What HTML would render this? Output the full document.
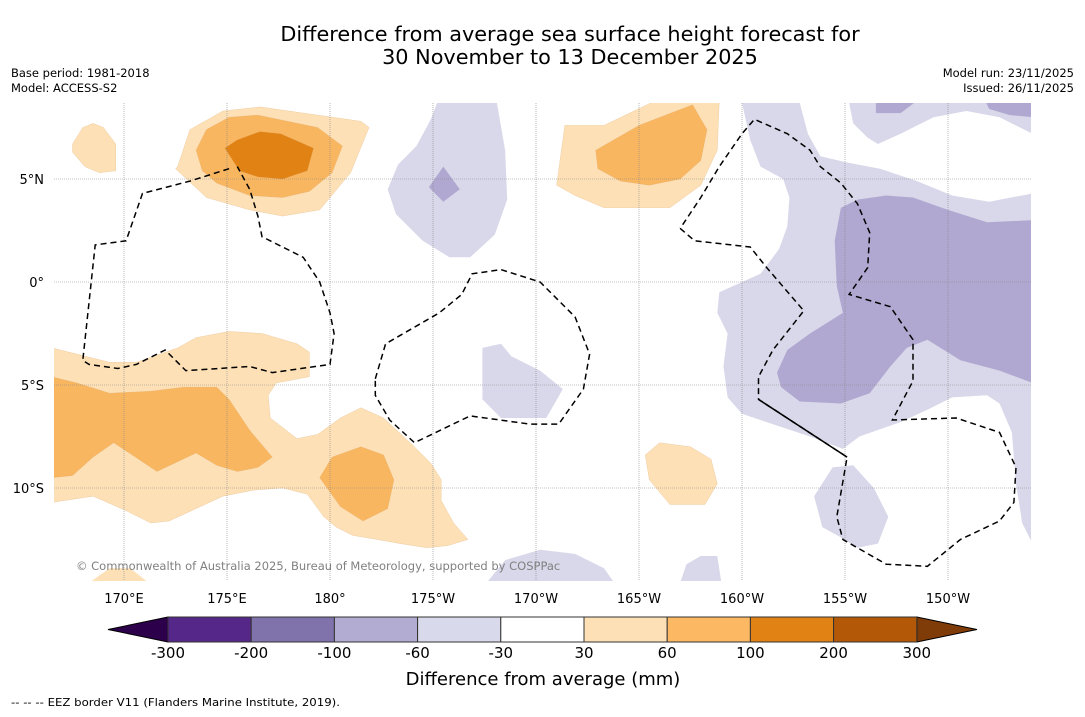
<!DOCTYPE html>
<html><head><meta charset="utf-8"><style>
html,body{margin:0;padding:0;background:#fff;}
body{width:1085px;height:713px;overflow:hidden;font-family:"DejaVu Sans","Liberation Sans",sans-serif;}
svg text{font-family:"DejaVu Sans","Liberation Sans",sans-serif;}
</style></head><body>
<svg id="chart" width="1085" height="713" viewBox="0 0 1085 713" xmlns="http://www.w3.org/2000/svg">
<rect width="1085" height="713" fill="#fff"/>
<text x="570" y="41" font-size="20.8" text-anchor="middle" fill="#000">Difference from average sea surface height forecast for</text>
<text x="570" y="64" font-size="20.8" text-anchor="middle" fill="#000">30 November to 13 December 2025</text>
<text x="11" y="77" font-size="11.5">Base period: 1981-2018</text>
<text x="11" y="92" font-size="11.5">Model: ACCESS-S2</text>
<text x="1074" y="77" font-size="11.5" text-anchor="end">Model run: 23/11/2025</text>
<text x="1074" y="92" font-size="11.5" text-anchor="end">Issued: 26/11/2025</text>
<defs><clipPath id="mapclip"><rect x="54" y="103" width="977" height="478"/></clipPath></defs>
<g id="map" clip-path="url(#mapclip)"></g>
<g id="axes"></g>
<g id="cbar"></g>
<text x="543" y="685" font-size="18" text-anchor="middle">Difference from average (mm)</text>
<text x="11" y="706" font-size="11" textLength="329" lengthAdjust="spacingAndGlyphs">--  --  -- EEZ border V11 (Flanders Marine Institute, 2019).</text>
</svg>
<script>
const lonTicks=[170,175,180,185,190,195,200,205,210];
const lonTickLabels=["170°E","175°E","180°","175°W","170°W","165°W","160°W","155°W","150°W"];
const latTicks=[5,0,-5,-10];
const latTickLabels=["5°N","0°","5°S","10°S"];
const cbarBounds=[-300,-200,-100,-60,-30,30,60,100,200,300];
const cbarColors=["#542788","#8073ac","#b2abd2","#d8daeb","#ffffff","#fee0b6","#fdb863","#e08214","#b35806"];
const cbarExtendColors=["#2d004b","#7f3b08"];
const regionLevels=[3,3,3,3,3,3,3,2,2,2,2,5,5,5,5,5,6,6,6,6,7];
const regionPolys=[
[[200,8.7],[202.8,8.7],[203.2,7.2],[203.8,6.1],[205.1,5.8],[206.7,5.5],[208.5,4.9],[210.2,4.2],[212,3.9],[214.1,4.3],[214.1,-12.7],[213.6,-11.7],[213.3,-9.8],[213.1,-7.3],[212.5,-5.9],[211.9,-5.5],[210.2,-5.6],[209,-6.2],[207.7,-6.8],[205.7,-7.5],[204.9,-8.1],[203.3,-7.5],[201.2,-6.8],[200,-6.4],[199.3,-5.6],[199.1,-4.1],[199.3,-2.5],[198.8,-1.5],[198.9,-0.5],[200.9,0.4],[201.8,1.6],[202.2,2.7],[202.3,4.1],[202,5],[200.9,5.6],[200.4,6.9]],
[[205.2,8.7],[205.4,7.7],[206.1,7],[206.6,6.7],[207.7,7.2],[209.3,8],[210.9,8.3],[212.5,8],[214.1,7.2],[214.1,8.7]],
[[185.2,8.7],[184.9,7.9],[184.2,6.6],[183.3,5.7],[182.8,4.5],[183.2,3.3],[184.5,2],[185.8,1.2],[186.8,1.2],[188,2.3],[188.6,4],[188.5,6.4],[188.1,8.7]],
[[187.4,-3.2],[188.3,-3],[188.8,-3.6],[190.2,-4.3],[191.3,-5.2],[190.5,-6.6],[188.3,-6.6],[187.4,-5.7]],
[[203.5,-10.4],[204.4,-9],[205.4,-8.9],[206.4,-10],[207.1,-11.4],[206.6,-12.7],[205.6,-12.9],[204.8,-12.4],[203.9,-11.9]],
[[198,-13.3],[198.8,-13.3],[199,-14.6],[197,-14.6],[197.3,-13.7]],
[[188.5,-13.5],[190.2,-13],[191.9,-13.2],[193.3,-13.9],[193.8,-14.6],[187.6,-14.6]],
[[204.8,3.6],[205.6,4],[207,4.2],[208.3,4.1],[210,3.5],[211.9,2.9],[214.1,3],[214.1,-4.9],[212.5,-4.3],[210.6,-3.8],[209,-2.8],[208,-3.2],[207.2,-4.1],[206.2,-5.4],[204.8,-5.9],[202.8,-5.8],[201.9,-5.1],[201.7,-4.4],[202.2,-3.3],[203.3,-2.5],[204.9,-1.5],[204.6,-0.2],[204.5,2]],
[[184.8,4.6],[185.5,5.6],[186.3,4.5],[185.5,3.9]],
[[206.5,8.8],[208.5,8.8],[207.7,8.2],[206.5,8.2]],
[[211.8,8.8],[214.1,8.8],[214.1,8],[213,8.1],[212,8.4]],
[[172.6,5.6],[173.2,7.4],[174.8,8.3],[176.6,8.5],[181.5,7.8],[181.9,7.5],[181,5.3],[179.5,3.5],[177.7,3.2],[176.1,3.5],[174,4.1],[172.5,5.5]],
[[167.5,6.7],[168,7.5],[168.5,7.7],[169,7.5],[169.6,6.7],[169.6,5.4],[168.8,5.3],[168.1,5.6],[167.5,6.3]],
[[166.5,-3.2],[169.3,-3.9],[170.6,-3.9],[172.6,-3.2],[173.5,-2.7],[175.1,-2.4],[176.7,-2.5],[178.4,-3],[179,-3.4],[179,-4.6],[177.4,-4.9],[177,-5.5],[177.1,-6.6],[178.4,-7.6],[179.4,-7.4],[180.5,-6.6],[181.5,-6.1],[182.6,-6.6],[183.9,-7.8],[184.9,-8.8],[185.4,-9.6],[185.4,-10.6],[186,-11.7],[186.7,-12.5],[185.7,-12.8],[184.7,-12.9],[183.4,-12.7],[182.3,-12.5],[181.1,-12.3],[180.3,-11.9],[179.7,-11.4],[178.9,-10.3],[177.7,-10],[176.3,-10.1],[174.8,-10.4],[173.5,-11],[172.2,-11.6],[171.3,-11.7],[170.1,-11.1],[168.5,-10.4],[166.5,-10.7]],
[[191,4.7],[191.4,7.6],[193.3,7.6],[195.8,8.8],[198.9,8.8],[198.8,6.4],[198,4.7],[196.5,3.6],[193.3,3.6],[191.9,4.2]],
[[195.3,-8.4],[196,-7.8],[197.5,-8],[198.5,-8.6],[198.8,-9.8],[198.2,-10.8],[196.5,-10.8],[195.5,-9.6]],
[[173.5,6.4],[174,7.4],[175.1,8],[176.5,8.1],[179.4,7.5],[180.6,6.6],[180.1,5.3],[179,4.4],[177.7,4.1],[176.1,4.2],[174.5,4.8],[173.8,5.4]],
[[166.5,-4.6],[167.7,-4.9],[169.3,-5.4],[171.3,-5.3],[172.9,-5.1],[174.5,-5.1],[175.1,-5.7],[176.1,-7.2],[177.2,-8.5],[176.5,-9],[175.5,-9.2],[174.5,-8.9],[173.5,-8.3],[171.6,-9.2],[169.5,-7.8],[168.5,-8.5],[167.5,-9.4],[166.5,-9.5]],
[[179.5,-9.5],[180.1,-8.5],[181.5,-8],[182.6,-8.4],[183.1,-9.6],[182.8,-11],[181.6,-11.6],[180.5,-10.9]],
[[192.9,6.4],[195,7.6],[197.6,8.6],[198.3,7.4],[198,5.9],[197,5],[195.5,4.7],[194.1,4.9],[193,5.5]],
[[174.9,6.5],[175.5,6.9],[176.6,7.3],[177.6,7.2],[179.2,6.5],[178.9,5.4],[177.7,5],[176.5,5.1],[175.6,5.4]]
];
const extraPoly=[[168.3,-14.6],[169.3,-13.9],[170.3,-13.9],[171.2,-14.6]];
const eezLines=[
[[175.1,5.5],[173.2,4.9],[170.9,4.3],[170.1,2],[168.6,1.8],[168,-3.8],[168.3,-4],[169.7,-4.2],[170.6,-4],[172,-3.3],[173,-4.3],[176.1,-4.1],[177.2,-4.4],[180,-4],[180.2,-2.5],[180,-1.5],[179.5,0],[178.7,1.2],[176.7,2.2],[176.5,3.2],[176.1,4.5],[175.5,5.6]],
[[182.2,-4.7],[182.7,-3],[185.3,-1.5],[186.4,-0.6],[186.9,0.4],[188.3,0.6],[190.2,0],[191.9,-1.7],[192.6,-3.5],[192.3,-5.2],[191.1,-6.9],[189.7,-6.9],[186.8,-6.5],[184.1,-7.8],[182.9,-6.7],[182.2,-5.5],[182.2,-4.7]],
[[197,2.6],[197.7,2],[200.4,1.7],[201.2,0.7],[203,-1.4],[201.5,-3.3],[200.8,-4.6],[200.8,-5.7],[205.1,-8.5],[204.6,-11.4],[204.9,-12.5],[207,-13.7],[209,-13.8],[210.6,-12.5],[212.5,-11.6],[213.2,-10.7],[213.3,-9],[212.5,-7.3],[210.4,-6.6],[207.3,-6.7],[208.3,-4.8],[208.3,-2.8],[207.2,-1.2],[205.2,-0.6],[206.1,0.7],[206.2,2.4],[205.6,3.8],[204.8,4.8],[203.8,5.6],[203.3,6.4],[202.2,7.2],[200.6,7.9],[200,7.2],[198.9,5.6],[198,4.1],[197,2.6]]
];
const eezSolid=[[200.8,-5.7],[205.1,-8.5]];
const mapColors=["#542788","#8073ac","#b0a8d0","#d8d8ea","#ffffff","#fde0b6","#f9b661","#e08214"];

const X0=54,X1=1031,Y0=103,Y1=581;
function xScale(lon){return 124+(lon-170)*20.6;}
function yScale(lat){return 282-lat*20.6;}
function cbX(i){return 168+i*83.2;}
const NS="http://www.w3.org/2000/svg";
function mk(tag,parent,attrs){const e=document.createElementNS(NS,tag);for(const k in attrs)e.setAttribute(k,attrs[k]);parent.appendChild(e);return e;}
function pts(p){return p.map(q=>xScale(q[0]).toFixed(1)+","+yScale(q[1]).toFixed(1)).join(" ");}

const map=document.getElementById('map');
regionPolys.forEach((p,i)=>{
  const c=mapColors[regionLevels[i]];
  const e=mk('polygon',map,{points:pts(p),fill:c,stroke:regionLevels[i]>4?"#d9a060":"none","stroke-width":0.4,"stroke-opacity":0.5});
  
  
});
{const e=mk('polygon',map,{points:pts(extraPoly),fill:mapColors[5]});

}
const grid=mk('g',map,{});


lonTicks.forEach(l=>{mk('line',grid,{x1:xScale(l),x2:xScale(l),y1:Y0,y2:Y1,stroke:"#888","stroke-width":0.6,"stroke-dasharray":"1,1"});});
latTicks.forEach(l=>{mk('line',grid,{x1:X0,x2:X1,y1:yScale(l),y2:yScale(l),stroke:"#888","stroke-width":0.6,"stroke-dasharray":"1,1"});});
eezLines.forEach((p,i)=>{
  const e=mk('polyline',map,{points:pts(p),fill:"none",stroke:"#000","stroke-width":1.5,"stroke-dasharray":"6,4"});
  
  
});
{const e=mk('polyline',map,{points:pts(eezSolid),fill:"none",stroke:"#000","stroke-width":1.5});

}
{const t=mk('text',map,{x:76,y:570,"font-size":11.5,fill:"#808080"});t.textContent="© Commonwealth of Australia 2025, Bureau of Meteorology, supported by COSPPac";

}

const axes=document.getElementById('axes');
lonTicks.forEach((l,i)=>{const t=mk('text',axes,{x:xScale(l),y:603,"font-size":13,"text-anchor":"middle"});t.textContent=lonTickLabels[i];

});
latTicks.forEach((l,i)=>{const t=mk('text',axes,{x:44,y:yScale(l)+5,"font-size":13,"text-anchor":"end"});t.textContent=latTickLabels[i];

});

const cb=document.getElementById('cbar');
const cy0=617,cy1=642,cym=629.5;
{const e=mk('polygon',cb,{points:`108,${cym} ${cbX(0)},${cy0} ${cbX(0)},${cy1}`,fill:cbarExtendColors[0],stroke:"#000","stroke-width":1});

}
{const n=cbarBounds.length-1;const e=mk('polygon',cb,{points:`977,${cym} ${cbX(n)},${cy0} ${cbX(n)},${cy1}`,fill:cbarExtendColors[1],stroke:"#000","stroke-width":1});

}
cbarColors.forEach((c,i)=>{const e=mk('rect',cb,{x:cbX(i),y:cy0,width:cbX(i+1)-cbX(i),height:cy1-cy0,fill:c,stroke:"#333","stroke-width":1});

});
cbarBounds.forEach((b,i)=>{const t=mk('text',cb,{x:cbX(i),y:658,"font-size":15,"text-anchor":"middle"});t.textContent=String(b);

});
</script>
</body></html>
